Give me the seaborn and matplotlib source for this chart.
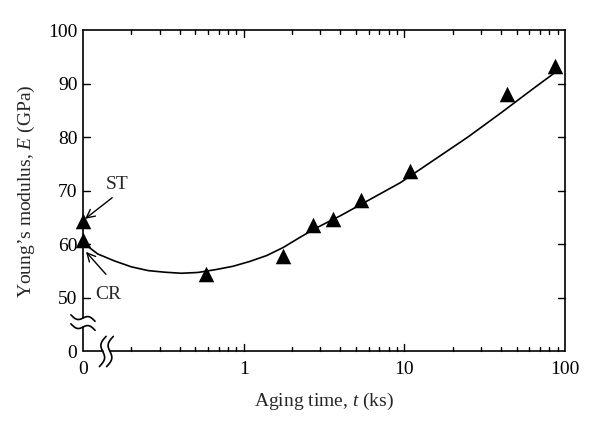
import numpy as np
import pandas as pd
import matplotlib
matplotlib.use("Agg")
import matplotlib.pyplot as plt
from matplotlib.ticker import FixedLocator, NullFormatter
import seaborn as sns

# ---------------- data ----------------
# measured points (t = 0 means the as-quenched states, drawn at the axis origin)
t_points = [0, 0, 0.585, 1.76, 2.71, 3.61, 5.36, 10.9, 43.3, 86.9]
E_points = [64.4, 60.9, 54.4, 57.8, 63.6, 64.7, 68.2, 73.6, 88.1, 93.2]

# fitted curve
t_curve = [0.1, 0.1236, 0.157, 0.2, 0.254, 0.322, 0.41, 0.52, 0.675, 0.857,
           1.09, 1.39, 1.76, 2.24, 2.85, 3.98, 9.44, 24.8, 39.8, 64.3, 87.9]
E_curve = [60.3, 58.2, 56.9, 55.8, 55.1, 54.8, 54.6, 54.75, 55.3, 55.9,
           56.8, 57.9, 59.4, 61.3, 63.1, 65.3, 71.5, 80.0, 84.5, 89.2, 92.2]

x_tick_vals = [0.1, 1, 10, 100]
x_tick_labels = ["0", "1", "10", "100"]
x_minor_vals = [m * d for d in (0.1, 1, 10) for m in range(2, 10)]
y_tick_vals = [40, 50, 60, 70, 80, 90, 100]
y_tick_labels = ["0", "50", "60", "70", "80", "90", "100"]

T_ZERO_POS = 0.1   # where t = 0 sits on the broken log axis

# ---------------- style ----------------
sns.set_theme(style="ticks")
plt.rcParams.update({
    "font.family": ["Liberation Serif", "DejaVu Serif"],
    "mathtext.fontset": "custom",
    "mathtext.rm": "Liberation Serif",
    "mathtext.it": "Liberation Serif:italic",
})
FS = 14
MAJ_PX, MIN_PX = 7.0, 4.0

fig = plt.figure(figsize=(6.0, 4.29), dpi=100)
ax = fig.add_axes([0.1383, 0.1807, 0.8034, 0.7493])

pts = pd.DataFrame({"t": [T_ZERO_POS if v == 0 else v for v in t_points],
                    "E": E_points})
curve = pd.DataFrame({"t": t_curve, "E": E_curve})

sns.lineplot(data=curve, x="t", y="E", ax=ax, color="black", lw=1.2,
             sort=False, estimator=None)
sns.scatterplot(data=pts, x="t", y="E", ax=ax, marker="^", s=125,
                color="black", linewidth=0, clip_on=False, zorder=5)

ax.set_xscale("log")
ax.set_xlim(0.1, 100)
ax.set_ylim(40, 100)

ax.xaxis.set_major_locator(FixedLocator(x_tick_vals))
ax.set_xticklabels(x_tick_labels)
ax.xaxis.set_minor_locator(FixedLocator(x_minor_vals))
ax.xaxis.set_minor_formatter(NullFormatter())
ax.set_yticks(y_tick_vals)
ax.set_yticklabels(y_tick_labels)

# native tick lines have zero length: the inward ticks are drawn below
ax.tick_params(which="both", direction="in", length=0, colors="black",
               labelsize=FS)
ax.tick_params(axis="x", which="major", pad=7)
ax.tick_params(axis="y", which="major", pad=4)

ax.set_xlabel("Aging time, $t$ (ks)", fontsize=FS, labelpad=9)
ax.set_ylabel("Young’s modulus, $E$ (GPa)", fontsize=FS, labelpad=8)

for side in ("top", "right"):
    ax.spines[side].set_color("black")
    ax.spines[side].set_linewidth(1.2)
ax.spines["left"].set_visible(False)
ax.spines["bottom"].set_visible(False)

tr = ax.transAxes
lk = dict(color="black", lw=1.2, transform=tr, clip_on=False, zorder=6)
tk = dict(color="black", lw=1.0, transform=tr, clip_on=False, zorder=6)

# inward tick marks on all four sides, placed from the axis limits
bbox = ax.get_position()
ax_w_px = bbox.width * fig.get_figwidth() * fig.dpi
ax_h_px = bbox.height * fig.get_figheight() * fig.dpi
x0, x1 = ax.get_xlim()
y0, y1 = ax.get_ylim()


def xfrac(v):
    return (np.log10(v) - np.log10(x0)) / (np.log10(x1) - np.log10(x0))


def yfrac(v):
    return (v - y0) / (y1 - y0)


for vals, L in ((x_tick_vals[1:-1], MAJ_PX), (x_minor_vals, MIN_PX)):
    h = L / ax_h_px
    for v in vals:
        xf = float(xfrac(v))
        ax.plot([xf, xf], [0, h], **tk)
        ax.plot([xf, xf], [1 - h, 1], **tk)
w = MAJ_PX / ax_w_px
for v in y_tick_vals[1:-1]:
    yf = float(yfrac(v))
    ax.plot([0, w], [yf, yf], **tk)
    ax.plot([1 - w, 1], [yf, yf], **tk)

# broken left and bottom axis lines
ax.plot([0, 0], [0.104, 1.0], **lk)
ax.plot([0, 0], [0.0, 0.076], **lk)
ax.plot([0, 0.041], [0, 0], **lk)
ax.plot([0.056, 1.0], [0, 0], **lk)

s = np.linspace(-1, 1, 60)
for yc in (0.104, 0.076):
    ax.plot(s * 0.025, yc - s * 0.010 + 0.009 * np.sin(np.pi * s), **lk)
for xc in (0.041, 0.056):
    ax.plot(xc + s * 0.007 - 0.007 * np.sin(np.pi * s), s * 0.047, **lk)

# annotations
ax.text(0.162, 71.1, "ST", fontsize=FS, ha="center", va="center")
ax.text(0.144, 50.6, "CR", fontsize=FS, ha="center", va="center")
arw = dict(arrowstyle="->,head_length=0.5,head_width=0.25", color="black", lw=1.0,
           shrinkA=0, shrinkB=0)
ax.annotate("", xy=(0.103, 64.75), xytext=(0.152, 68.7), arrowprops=arw,
            annotation_clip=False)
ax.annotate("", xy=(0.1044, 58.6), xytext=(0.139, 54.4), arrowprops=arw,
            annotation_clip=False)

fig.savefig("out.png", dpi=100)
